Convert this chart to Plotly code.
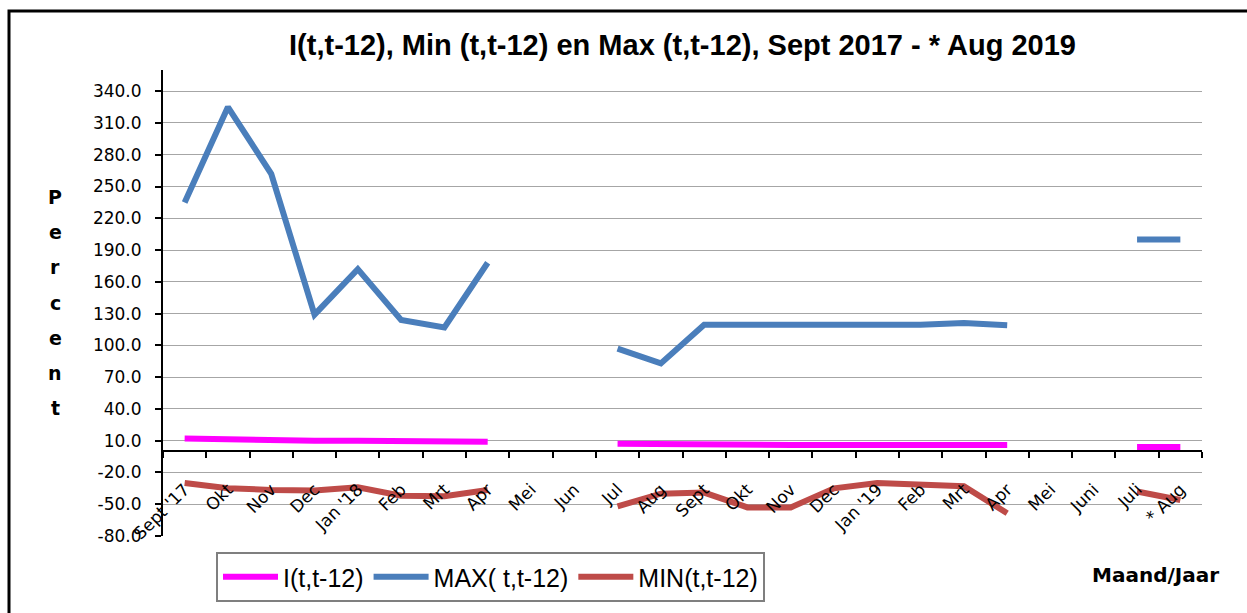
import plotly.graph_objects as go

months = ["Sept '17", "Okt", "Nov", "Dec", "Jan '18", "Feb", "Mrt", "Apr", "Mei", "Jun",
          "Jul", "Aug", "Sept", "Okt", "Nov", "Dec", "Jan '19", "Feb", "Mrt", "Apr",
          "Mei", "Juni", "Juli", "* Aug"]

i_vals = [12, 11, 10, 10, 10, 10, 9, 9, None, None,
          7, 6.5, 6, 6, 6, 6, 6, 5, 5, 6,
          None, None, 4, 4]
max_vals = [235, 325, 262, 129, 172, 124, 117, 178, None, None,
            97, 83, 119.5, 119.5, 119.5, 119.5, 119.5, 119.5, 121, 119,
            None, None, 200, 200]
min_vals = [-30, -35, -36.5, -37, -34, -42, -42.5, -36.5, None, None,
            -52, -40, -39, -53, -53, -35, -30, -31, -33, -58.5,
            None, None, -38, -46]

y_ticks = [-80, -50, -20, 10, 40, 70, 100, 130, 160, 190, 220, 250, 280, 310, 340]
y_tick_labels = [f"{v:.1f}" for v in y_ticks]
y_min, y_max = -80, 360

series_names = ["I(t,t-12)", "MAX( t,t-12)", "MIN(t,t-12)"]
series_colors = ["#FF00FF", "#4A7EBB", "#BE4B48"]

title_text = "I(t,t-12), Min (t,t-12) en Max (t,t-12), Sept 2017 - * Aug 2019"
y_title_letters = list("Percent")
x_title = "Maand/Jaar"

x_idx = list(range(len(months)))

fig = go.Figure()
for name, vals, col in zip(series_names, [i_vals, max_vals, min_vals], series_colors):
    fig.add_trace(go.Scatter(x=x_idx, y=vals, mode="lines", name=name,
                             line=dict(color=col, width=6), connectgaps=False))

# dummy trace to register the label axis
fig.add_trace(go.Scatter(x=x_idx, y=[None] * len(x_idx), xaxis="x2", showlegend=False,
                         hoverinfo="skip", mode="lines"))

zero_pos = (0 - y_min) / (y_max - y_min)
xr = [-0.5, len(months) - 0.5]

fig.update_layout(
    width=1247, height=613,
    margin=dict(l=163, r=45, t=70, b=77, autoexpand=False),
    paper_bgcolor="white", plot_bgcolor="white",
    title=dict(text=title_text, x=0.5, xref="paper", y=1 - 45 / 613, yref="container",
               xanchor="center", yanchor="middle",
               font=dict(family="Liberation Sans Narrow, Liberation Sans", size=29, color="#000000",
                         weight="bold")),
    xaxis=dict(range=xr, tickvals=[i - 0.5 for i in range(len(months) + 1)],
               showticklabels=False, ticks="outside", ticklen=6, tickwidth=2, tickcolor="black",
               showline=True, linecolor="black", linewidth=2, showgrid=False, zeroline=False,
               anchor="free", position=zero_pos),
    xaxis2=dict(range=xr, overlaying="x", anchor="free", position=zero_pos,
                tickvals=x_idx, ticktext=months, ticks="", tickangle=-45,
                ticklabelstandoff=24,
                tickfont=dict(family="DejaVu Sans", size=17, color="#000000"),
                showline=False, showgrid=False, zeroline=False),
    yaxis=dict(range=[y_min, y_max], tickvals=y_ticks, ticktext=y_tick_labels,
               tickfont=dict(family="DejaVu Sans", size=17, color="#000000"),
               ticks="outside", ticklen=6, tickwidth=2, tickcolor="black",
               ticklabelstandoff=10,
               showline=True, linecolor="black", linewidth=2,
               showgrid=True, gridcolor="#A6A6A6", gridwidth=1, zeroline=False),
    legend=dict(orientation="h", x=(216 - 163) / 1039, xanchor="left",
                y=(536 - 602) / 466, yanchor="bottom",
                bordercolor="#7F7F7F", borderwidth=2, bgcolor="white",
                font=dict(family="Liberation Sans", size=25, color="#000000"),
                itemwidth=55),
    showlegend=True,
)

for k, letter in enumerate(y_title_letters):
    fig.add_annotation(text=letter, xref="paper", yref="paper",
                       x=(55 - 163) / 1039, y=(536 - (197 + 35.2 * k)) / 466,
                       xanchor="center", yanchor="middle", showarrow=False,
                       font=dict(family="DejaVu Sans", size=19, color="#000000", weight="bold"))

fig.add_annotation(text=x_title, xref="paper", yref="paper",
                   x=(1155 - 163) / 1039, y=(536 - 575) / 466,
                   xanchor="center", yanchor="middle", showarrow=False,
                   font=dict(family="DejaVu Sans", size=20, color="#000000", weight="bold"))

# outer chart frame
fig.add_shape(type="rect", xref="paper", yref="paper",
              x0=(9 - 163) / 1039, x1=(1260 - 163) / 1039,
              y0=(536 - 640) / 466, y1=(536 - 11) / 466,
              line=dict(color="black", width=3), fillcolor="rgba(0,0,0,0)", layer="below")

fig.write_html("out.html", config={"displayModeBar": False},
               post_script="document.body.style.margin='0';document.body.style.overflow='hidden';")
